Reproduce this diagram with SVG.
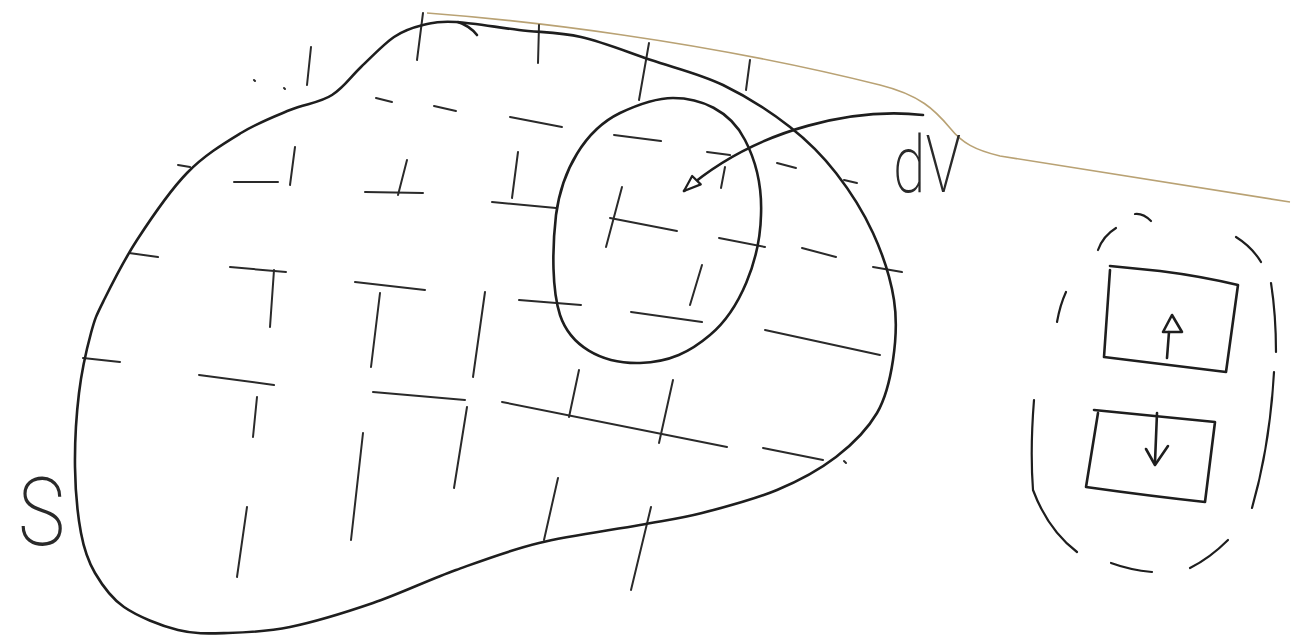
<svg xmlns="http://www.w3.org/2000/svg" width="1294" height="636" viewBox="0 0 1294 636">
<defs>
<style>
.ink{fill:none;stroke:#1e1e1e;stroke-width:2.6;stroke-linecap:round;stroke-linejoin:round}
.grid line,.grid path{stroke:#2a2a2a;stroke-width:2;stroke-linecap:round;fill:none}
.dash{fill:none;stroke:#1e1e1e;stroke-width:2.2;stroke-linecap:round}
.paper{fill:none;stroke:#b9a274;stroke-width:1.6}
.hand{font-family:Roboto,Lato,"Open Sans","Liberation Sans",sans-serif;font-weight:200;fill:#2a2a2a}
</style>
<marker id="openTri" markerUnits="userSpaceOnUse" markerWidth="30" markerHeight="30" refX="20" refY="8" orient="auto" viewBox="0 0 30 16">
<path d="M20,8 L3,2 L4,14 Z" fill="#fff" stroke="#1e1e1e" stroke-width="2.2" stroke-linejoin="round"/>
</marker>
</defs>
<rect width="1294" height="636" fill="#fff"/>

<path class="paper" d="M427,13 C520,20 700,40 880,85 C920,95 935,110 950,128 C962,143 975,150 1000,156 L1290,202"/>

<g id="grid" class="grid">
<line x1="376" y1="98" x2="392" y2="102"/>
<line x1="434" y1="106" x2="456" y2="111"/>
<line x1="510" y1="117" x2="562" y2="127"/>
<line x1="614" y1="135" x2="661" y2="141"/>
<line x1="707" y1="152" x2="730" y2="155"/>
<line x1="777" y1="163" x2="796" y2="168"/>
<line x1="844" y1="180" x2="857" y2="183"/>
<line x1="178" y1="165" x2="190" y2="167"/>
<line x1="234" y1="182" x2="278" y2="182"/>
<line x1="365" y1="192" x2="423" y2="193"/>
<line x1="492" y1="202" x2="556" y2="208"/>
<line x1="610" y1="218" x2="677" y2="231"/>
<line x1="719" y1="238" x2="765" y2="247"/>
<line x1="802" y1="248" x2="836" y2="257"/>
<line x1="873" y1="267" x2="902" y2="272"/>
<line x1="129" y1="253" x2="158" y2="257"/>
<line x1="230" y1="267" x2="286" y2="272"/>
<line x1="355" y1="282" x2="425" y2="290"/>
<line x1="519" y1="300" x2="581" y2="305"/>
<line x1="631" y1="312" x2="702" y2="322"/>
<line x1="765" y1="330" x2="880" y2="355"/>
<line x1="83" y1="358" x2="120" y2="362"/>
<line x1="199" y1="375" x2="274" y2="385"/>
<line x1="373" y1="392" x2="465" y2="400"/>
<line x1="502" y1="402" x2="727" y2="447"/>
<line x1="763" y1="448" x2="823" y2="460"/>
<line x1="844" y1="461" x2="846" y2="463"/>
<line x1="254" y1="80" x2="255" y2="81"/>
<line x1="284" y1="88" x2="285" y2="89"/>
<line x1="311" y1="47" x2="307" y2="85"/>
<line x1="423" y1="13" x2="417" y2="60"/>
<line x1="539" y1="25" x2="538" y2="63"/>
<line x1="649" y1="43" x2="639" y2="100"/>
<line x1="750" y1="60" x2="746" y2="90"/>
<line x1="295" y1="147" x2="290" y2="185"/>
<line x1="407" y1="160" x2="398" y2="195"/>
<line x1="518" y1="152" x2="512" y2="198"/>
<line x1="622" y1="187" x2="606" y2="247"/>
<line x1="725" y1="167" x2="721" y2="188"/>
<line x1="274" y1="270" x2="270" y2="327"/>
<line x1="380" y1="293" x2="371" y2="367"/>
<line x1="485" y1="292" x2="473" y2="377"/>
<line x1="702" y1="265" x2="690" y2="305"/>
<line x1="257" y1="397" x2="253" y2="437"/>
<line x1="467" y1="407" x2="454" y2="488"/>
<line x1="579" y1="370" x2="569" y2="417"/>
<line x1="558" y1="478" x2="544" y2="540"/>
<line x1="363" y1="433" x2="351" y2="540"/>
<line x1="247" y1="507" x2="237" y2="577"/>
<line x1="651" y1="507" x2="631" y2="590"/>
<line x1="673" y1="380" x2="659" y2="443"/>
</g>

<g id="region-S">
<path class="ink" d="M332,95 C343.8,87.8 350.7,76.7 361,67 C371.3,57.3 383.7,44 394,37 C404.3,30 412.7,27.5 423,25 C433.3,22.5 440,21.2 456,22 C472,22.8 498.2,27.5 519,30 C539.8,32.5 559,32 581,37 C603,42 627.3,52 651,60 C674.7,68 699.8,73.8 723,85 C746.2,96.2 771.2,112.3 790,127 C808.8,141.7 822.2,155.3 836,173 C849.8,190.7 863.3,211.8 873,233 C882.7,254.2 890.7,278.8 894,300 C897.3,321.2 895.8,341.2 893,360 C890.2,378.8 886.5,396.8 877,413 C867.5,429.2 852.7,444.2 836,457 C819.3,469.8 799.3,480.7 777,490 C754.7,499.3 724.8,507.2 702,513 C679.2,518.8 667.2,520 640,525 C612.8,530 569.7,535.5 539,543 C508.3,550.5 483.7,560 456,570 C428.3,580 400.7,593.5 373,603 C345.3,612.5 314.2,622 290,627 C265.8,632 246.7,632.5 228,633 C209.3,633.5 195.3,634.3 178,630 C160.7,625.7 137.8,616.5 124,607 C110.2,597.5 102.2,585.3 95,573 C87.8,560.7 84.3,550.7 81,533 C77.7,515.3 75.3,490.3 75,467 C74.7,443.7 76.3,415.3 79,393 C81.7,370.7 86.8,348.5 91,333 C95.2,317.5 96.3,315.5 104,300 C111.7,284.5 123.2,261.2 137,240 C150.8,218.8 169.7,190.8 187,173 C204.3,155.2 223.8,143.5 241,133 C258.2,122.5 274.8,116.3 290,110 C305.2,103.7 320.2,102.8 332,95 Z"/>
<path class="ink" d="M458,22 Q470,26 477,35" stroke-width="1.6"/>
<text class="hand" x="18" y="545" font-size="95" textLength="47" lengthAdjust="spacingAndGlyphs">S</text>
</g>

<g id="element-dV">
<path class="ink" d="M673,98 C700,98 730,110 745,140 C757,163 762,190 761,215 C760,260 740,310 710,335 C690,352 670,362 640,363 C600,364 570,345 560,315 C552,290 552,250 556,215 C562,170 585,130 620,113 C637,105 655,98 673,98 Z"/>
</g>

<g id="label-dV">
<text class="hand" x="893" y="192" font-size="80" textLength="68" lengthAdjust="spacingAndGlyphs">dV</text>
</g>

<g id="connectors">
<path class="ink" stroke-width="2.2" d="M923,115 C860,108 760,125 684,191" marker-end="url(#openTri)"/>
</g>

<g id="dipole-element">
<path class="dash" d="M1098,250 Q1103,236 1116,228"/>
<path class="dash" d="M1135,214 Q1143,213 1151,221"/>
<path class="dash" d="M1236,237 Q1252,247 1261,262"/>
<path class="dash" d="M1271,283 Q1276,315 1276,352"/>
<path class="dash" d="M1274,372 Q1270,445 1252,508"/>
<path class="dash" d="M1066,292 Q1060,305 1057,322"/>
<path class="dash" d="M1034,400 Q1030,450 1033,490 Q1048,530 1077,552"/>
<path class="dash" d="M1111,563 Q1130,570 1152,572"/>
<path class="dash" d="M1190,568 Q1210,558 1228,540"/>
<g id="box-up">
<path class="ink" d="M1110,266 L1160,271 Q1200,276 1238,285 L1226,372 L1104,357 L1110,270"/>
<path class="ink" stroke-width="2" d="M1167,358 L1169,332"/>
<path class="ink" stroke-width="2" d="M1163,332 L1172,315 L1182,332 Z"/>
</g>
<g id="box-down">
<path class="ink" d="M1094,410 L1215,422 L1205,502 Q1150,496 1086,487 L1098,413"/>
<path class="ink" stroke-width="2" d="M1157,413 L1155,462"/>
<path class="ink" stroke-width="2" d="M1146,449 L1155,465 L1168,446"/>
</g>
</g>
</svg>
